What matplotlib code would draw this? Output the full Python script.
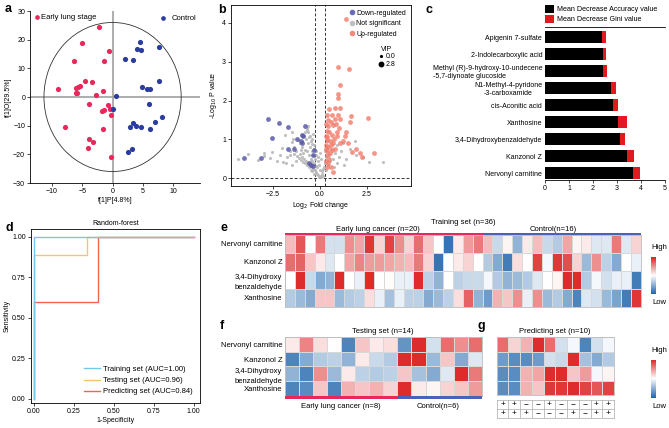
import matplotlib
matplotlib.use('Agg')
import matplotlib.pyplot as plt
import numpy as np
from matplotlib.colors import LinearSegmentedColormap
from matplotlib.patches import Ellipse
from matplotlib.lines import Line2D

plt.rcParams['font.family'] = ['Liberation Sans', 'DejaVu Sans']
plt.rcParams['font.size'] = 5
plt.rcParams['axes.linewidth'] = 0.6
for a in ('xtick', 'ytick'):
    plt.rcParams[a + '.major.size'] = 2
    plt.rcParams[a + '.major.width'] = 0.5
    plt.rcParams[a + '.major.pad'] = 1.5
    plt.rcParams[a + '.labelsize'] = 5

# ---------------- data ----------------
# a: OPLS-DA scores
lung_t1 = [-2.3, -5.0, -0.6, -6.4, -1.4, -4.5, -3.4, -5.3, -5.7, -6.0, -9.0, -6.1, -5.9, -1.5,
           -2.8, -3.8, -0.7, -0.5, -1.4, -1.8, -0.3, -7.8, -1.6, -3.8, -3.3, -4.1, -0.2]
lung_o1 = [24.4, 19.0, 16.1, 12.7, 12.7, 5.6, 5.3, 4.0, 3.4, 3.0, 2.8, 1.5, 1.3, 2.0,
           0.7, -2.5, -2.8, -4.3, -4.6, -5.0, -6.2, -10.3, -11.0, -14.6, -15.7, -17.7, -20.9]
ctrl_t1 = [4.5, 7.7, 4.0, 4.7, 2.0, 3.4, 7.7, 4.9, 5.6, 6.2, 0.5, 0.0, 6.0, 8.2, 7.0, 3.3,
           2.8, 3.8, 4.7, 6.1, 3.2, 2.5]
ctrl_o1 = [19.2, 17.5, 16.7, 16.5, 13.2, 13.0, 5.7, 3.5, 2.8, 2.8, 0.2, -4.2, -2.5, -7.0,
           -8.8, -9.0, -10.4, -10.2, -10.5, -11.3, -18.0, -19.2]

# b: volcano
down_fc = [-2.75, -2.18, -1.69, -2.54, -0.80, -0.94, -0.88, -1.24, -1.72, -1.37, -0.94, -0.32,
           -0.39, -0.59, -0.39, -0.50, -4.03, -3.12, -1.00]
down_p = [1.53, 1.41, 1.31, 1.04, 1.35, 1.11, 1.10, 1.00, 0.76, 0.76, 0.90, 0.72,
          0.61, 0.38, 0.32, 0.33, 0.52, 0.51, 0.95]
up_fc = [1.37, 0.98, 1.54, 1.06, 0.94, 0.98, 0.35, 0.50, 0.80, 1.06, 0.66, 0.98, 1.65, 2.54,
         0.44, 0.80, 1.06, 1.60, 0.44, 0.70, 1.03, 0.35, 0.50, 0.62, 0.89, 1.33, 0.35, 0.53,
         0.75, 1.06, 1.20, 1.68, 2.13, 2.22, 2.89, 0.30, 0.45, 0.60, 0.40, 0.55, 0.35, 0.50,
         0.30, 0.45, 0.35, 0.60, 0.67, 0.30, 0.40, 0.70, 0.90, 1.40, 0.32, 0.60, 0.85, 0.30,
         0.65, 0.80, 1.50, 1.90]
up_p = [4.11, 2.86, 2.80, 2.39, 2.16, 2.07, 1.64, 1.78, 1.81, 1.81, 1.64, 1.64, 1.61, 1.55,
        1.51, 1.53, 1.53, 1.45, 1.34, 1.38, 1.29, 1.21, 1.20, 1.12, 1.08, 1.08, 0.99, 0.95,
        1.00, 0.91, 0.95, 0.67, 0.65, 0.54, 0.65, 0.85, 0.80, 0.85, 0.70, 0.65, 0.60, 0.50,
        0.45, 0.40, 0.30, 0.30, 0.17, 1.10, 1.05, 0.90, 1.20, 1.20, 1.40, 1.45, 1.40, 0.75,
        0.72, 0.75, 0.90, 0.75]
ns_fc = [-4.35, -3.85, -3.30, -3.00, -2.95, -2.65, -2.55, -2.30, -1.95, -2.00, -1.75, -1.60,
         -1.50, -1.40, -1.86, -1.50, -1.42, -1.06, -0.80, -0.71, -0.66, 3.35, 2.60, 2.30,
         1.90, 1.60, 1.40, 1.85, 1.20, 1.30,
         -0.05, 0.00, 0.05, -0.10, 0.10, -0.15, 0.15, -0.20, -0.25, 0.12, -0.30, -0.35, -0.40,
         0.18, -0.45, -0.50, -0.55, 0.20, -0.60, -0.65, -0.70, -0.75, -0.80, -0.85, -0.90,
         -0.95, -1.00, -1.05, -1.10, -1.20, -1.25, -1.30, -0.50, -0.60, -0.70, -0.40, -0.30,
         -0.35, -0.45, -0.55, -0.65, -0.75, -0.85, -0.20, -0.25, -0.15, 0.00, -0.05, -0.10,
         -0.20, -0.30, -0.40, -0.50, -0.60, -0.95, -1.05, -1.15, -0.90, -1.00, 0.25, 0.30,
         0.25, 0.35, 0.40, 0.30, 0.45, 0.50, 0.55, 0.60, 0.70, 0.80, 0.90, 1.00, 1.10, 0.90,
         0.75, -0.12, -0.22, -0.32, -0.42, -0.52, -0.62, -0.70, -0.80, -0.35, 0.05, -0.02,
         -1.40, -1.60, -1.50, -1.80, -2.10]
ns_p = [0.49, 0.63, 0.48, 0.56, 0.66, 0.52, 0.68, 0.45, 0.43, 0.78, 0.55, 0.60,
        0.92, 0.62, 1.11, 1.20, 1.00, 0.90, 0.72, 1.24, 1.34, 0.43, 0.42, 0.55,
        0.60, 0.75, 0.50, 0.95, 0.90, 0.35,
        0.02, 0.05, 0.03, 0.08, 0.10, 0.12, 0.06, 0.15, 0.20, 0.18, 0.10, 0.25, 0.18,
        0.25, 0.30, 0.22, 0.35, 0.30, 0.28, 0.40, 0.33, 0.45, 0.38, 0.50, 0.42,
        0.55, 0.48, 0.62, 0.52, 0.58, 0.70, 0.45, 0.50, 0.60, 0.70, 0.45, 0.38,
        0.60, 0.70, 0.80, 0.90, 1.00, 1.08, 0.32, 0.50, 0.30, 0.20, 0.35, 0.45,
        0.60, 0.75, 0.88, 0.95, 1.05, 0.80, 0.90, 0.98, 0.65, 0.72, 0.40, 0.55,
        0.70, 0.80, 0.95, 0.20, 0.35, 0.60, 0.45, 0.75, 0.50, 0.65, 0.40, 0.55, 0.70, 0.85,
        0.30, 0.55, 0.70, 0.85, 1.00, 1.10, 1.20, 1.30, 1.18, 1.15, 0.50, 0.65,
        0.80, 0.70, 0.35, 0.40, 0.60]

# c: random forest importance
metabolites = ['Apigenin 7-sulfate', '2-Indolecarboxylic acid',
               'Methyl (R)-9-hydroxy-10-undecene\n-5,7-diynoate glucoside',
               'N1-Methyl-4-pyridone\n-3-carboxamide', 'cis-Aconitic acid', 'Xanthosine',
               '3,4-Dihydroxybenzaldehyde', 'Kanzonol Z', 'Nervonyl carnitine']
mda = [2.39, 2.40, 2.43, 2.75, 2.82, 3.06, 3.12, 3.40, 3.67]
mdg = [0.14, 0.14, 0.14, 0.19, 0.24, 0.36, 0.21, 0.32, 0.29]

# d: ROC
train_fpr = [0, 0, 1]
train_tpr = [0, 1, 1]
test_fpr = [0, 0, 0.333, 0.333, 1]
test_tpr = [0, 0.889, 0.889, 1, 1]
pred_fpr = [0, 0, 0.4, 0.4, 1]
pred_tpr = [0, 0.6, 0.6, 1, 1]

# e/f/g: heatmaps (scaled abundance, rows = features)
rows = ['Nervonyl carnitine', 'Kanzonol Z', '3,4-Dihydroxy\nbenzaldehyde', 'Xanthosine']
train_nervonyl = [0.3, 0.75, 0, 0.6, -0.2, -0.2, 0.5, 0.4, 0.9, 0.2, 0.85, 0.5, 0.2, 0.65, 0.25, 0,
                  -0.9, 0.1, 0.45, 0.6, 0.3, -0.25, 0.05, -0.5, 0.1, 0.3, -0.25, -0.35, 0.4, 0.05,
                  0.1, -0.15, -0.15, 0.6, -0.15, 0.2]
train_kanzonol = [0.65, 0.7, 0.25, 0.1, -0.15, 0, 0.4, 0.55, 0.45, 0.45, 0.4, 0.35, 0.3, 0.6, 0.2,
                  -0.9, 0, 0.1, 0.2, 0, -0.35, -0.55, -0.85, 0.15, 0, 0.85, -0.05, 0.9, 0.8, 0.2,
                  -0.45, 0.5, -0.3, -0.55, 0, -0.1]
train_dhb = [0, 0.95, -0.25, -0.55, -0.5, 0.95, 0, -0.1, 0.95, 0, 0.02, -0.1, -0.1, 0.95, -0.3, -0.5,
             0, -0.3, -0.25, -0.25, -0.05, -0.35, -0.5, -0.45, -0.35, -0.15, 0, 0.05, 0.95, 0.95,
             -0.35, -0.05, -0.2, -0.1, -0.1, -0.85]
train_xanth = [-0.35, -0.45, -0.55, 0.25, 0.25, -0.45, -0.35, -0.3, 0.15, -0.1, -0.4, -0.1, -0.3,
               -0.3, -0.55, -0.45, -0.3, 0.15, 0.7, -0.5, -0.65, 0.35, 0.25, 0.5, -0.1, 0.5, -0.45,
               -0.35, -0.55, -0.8, -0.15, -0.2, -0.45, -0.6, -0.85, 0.9]
test_nervonyl = [0.1, 0.55, 0.15, 0, -0.8, 0.25, 0.1, 0.15, -0.7, 0.95, -0.2, 0.65, 0.5, 0.65]
test_kanzonol = [-0.8, -0.55, -0.35, -0.3, -0.5, 0.1, -0.25, -0.35, 0.95, 0.95, -0.45, 0.25, -0.55, -0.15]
test_dhb = [-0.5, -0.8, 0.5, -0.45, 0.1, -0.3, -0.35, -0.3, 0.25, -0.4, -0.55, -0.15, 0.95, 0.6]
test_xanth = [-0.8, -0.75, 0.25, -0.8, 0.35, 0.25, 0.35, 0.2, 0.95, 0.1, 0.05, 0.2, 0.25, 0.45]
pred_nervonyl = [0.65, 0.2, 0.35, 0.95, 0.65, -0.2, -0.05, -0.8, -0.2, -0.05]
pred_kanzonol = [-0.65, -0.75, -0.75, -0.65, -0.2, -0.25, 0.95, -0.4, -0.55, -0.35]
pred_dhb = [-0.75, -0.75, 0.35, 0.4, 0.95, 0.95, 0.25, 0.45, -0.05, 0.05]
pred_xanth = [-0.75, -0.75, 0.35, 0.25, 0.9, 0.9, 0.95, 0.85, 0.75, 0.85]
train_groups = [20, 16]
test_groups = [8, 6]
pred_calls = [['+', '+', '−', '−', '+', '−', '−', '−', '+', '+'],
              ['+', '+', '+', '−', '−', '−', '+', '−', '+', '+']]

# ---------------- figure ----------------
W, H = 669, 428
fig = plt.figure(figsize=(W / 100, H / 100), dpi=100)


def box(x0, y0, x1, y1):
    return [x0 / W, 1 - y1 / H, (x1 - x0) / W, (y1 - y0) / H]


def ftext(x, y, s, **kw):
    fig.text(x / W, 1 - y / H, s, **kw)


red_c, blue_c = '#e8285a', '#2a3d9e'

# a
ax = fig.add_axes(box(30, 11, 200, 183))
ax.axhline(0, color='#a0a0a0', lw=1.2, zorder=0)
ax.axvline(0, color='#a0a0a0', lw=1.2, zorder=0)
ax.add_patch(Ellipse((0, 0), 22.6, 52, fill=False, lw=0.6, ec='#333333'))
h1 = ax.scatter(lung_t1, lung_o1, s=14, color=red_c, lw=0, label='Early lung stage', zorder=3)
h2 = ax.scatter(ctrl_t1, ctrl_o1, s=14, color=blue_c, lw=0, label='Control', zorder=3)
ax.set_xlim(-13.6, 14.4)
ax.set_ylim(-30, 30)
ax.set_xticks([-10, -5, 0, 5, 10])
ax.set_yticks([-30, -20, -10, 0, 10, 20, 30])
ax.spines[['top', 'right']].set_visible(False)
ax.set_xlabel('t[1]P[4.8%]', labelpad=1.5)
ax.set_ylabel('t[1]O[29.5%]', labelpad=1)
l1 = ax.legend(handles=[h1], loc='upper left', frameon=False, handletextpad=0.1,
               borderaxespad=0.0, handlelength=1.0, fontsize=5.5, markerscale=0.9)
ax.add_artist(l1)
ax.legend(handles=[h2], loc='upper right', frameon=False, handletextpad=0.1,
          borderaxespad=0.1, fontsize=5.5, markerscale=0.9)

# b
ax = fig.add_axes(box(231, 5, 411, 186))
ax.scatter(ns_fc, ns_p, s=5, color='#b8b8b8', lw=0, alpha=0.9, zorder=2)
ax.scatter(down_fc, down_p, s=12, color='#5a5aaa', lw=0, alpha=0.85, zorder=3)
ax.scatter(up_fc, up_p, s=12, color='#f27b6b', lw=0, alpha=0.8, zorder=3)
for xv in (-0.26, 0.26):
    ax.axvline(xv, color='#333333', lw=0.7, ls=(0, (3, 2)), zorder=1)
ax.axhline(0, color='#333333', lw=0.7, ls=(0, (3, 2)), zorder=1)
ax.set_xlim(-4.73, 4.84)
ax.set_ylim(-0.2, 4.46)
ax.set_xticks([-2.5, 0, 2.5])
ax.set_xticklabels(['−2.5', '0.0', '2.5'])
ax.set_yticks([0, 1, 2, 3, 4])
ax.set_xlabel(r'Log$_2$ Fold change', labelpad=1.5)
ax.set_ylabel(r'-Log$_{10}$ P value', labelpad=2)
hs = [Line2D([], [], ls='', marker='o', ms=3, color=c, label=t) for c, t in
      [('#6a6ab8', 'Down-regulated'), ('#c0c0c0', 'Not significant'), ('#f28a7c', 'Up-regulated')]]
lb = ax.legend(handles=hs, loc='upper right', frameon=False, handletextpad=0.0,
               borderaxespad=0.3, labelspacing=0.5, handlelength=1.2)
ax.add_artist(lb)
vs = [Line2D([], [], ls='', marker='o', ms=ms, color='black', label=t) for ms, t in
      [(1.3, '0.0'), (3.2, '2.8')]]
ax.legend(handles=vs, title='VIP', loc='upper right', bbox_to_anchor=(0.93, 0.79), frameon=False,
          handletextpad=0.1, borderaxespad=0, labelspacing=0.1, handlelength=1.2,
          title_fontsize=5)

# c
ax = fig.add_axes(box(545, 27, 665, 180))
yy = np.arange(len(metabolites))[::-1]
ax.barh(yy, mda, height=0.7, color='black', label='Mean Decrease Accuracy value')
ax.barh(yy, mdg, left=mda, height=0.7, color='#e2191f', label='Mean Decrease Gini value')
ax.set_xlim(0, 5)
ax.set_ylim(-0.4, 8.6)
ax.set_yticks(yy)
ax.set_yticklabels(metabolites)
for lab in ax.get_yticklabels():
    lab.set_multialignment('center' if lab.get_text().startswith('N1') else 'left')
ax.tick_params(axis='y', length=0, pad=2)
ax.set_xticks(range(6))
ax.spines[['left', 'right']].set_visible(False)
ax.legend(loc='lower left', bbox_to_anchor=(-0.03, 1.0), frameon=False, handlelength=1.3,
          handleheight=1.3, handletextpad=0.4, borderaxespad=0.1, labelspacing=0.3, fontsize=5.1)

# d
ax = fig.add_axes(box(30.7, 229, 200, 403))
ax.plot(pred_fpr, pred_tpr, color='#f0654f', lw=1)
ax.plot(test_fpr, test_tpr, color='#f6c46c', lw=1)
ax.plot(train_fpr, train_tpr, color='#72c8ea', lw=1)
ax.set_xlim(-0.02, 1.04)
ax.set_ylim(-0.025, 1.047)
ticks = [0, 0.25, 0.5, 0.75, 1]
ax.set_xticks(ticks)
ax.set_yticks(ticks)
ax.set_xticklabels(['%.2f' % t for t in ticks])
ax.set_yticklabels(['%.2f' % t for t in ticks])
ax.set_xlabel('1-Specificity', labelpad=1.5)
ax.set_ylabel('Sensitivity', labelpad=1)
ax.set_title('Random-forest', fontsize=5, pad=3)
hd = [Line2D([], [], color=c, lw=1, label=t) for c, t in
      [('#72c8ea', 'Training set (AUC=1.00)'), ('#f6c46c', 'Testing set (AUC=0.96)'),
       ('#f0654f', 'Predicting set (AUC=0.84)')]]
ax.legend(handles=hd, loc='lower right', frameon=False, handlelength=2, handletextpad=0.4,
          labelspacing=0.5, borderaxespad=0.6, fontsize=5.5)

# heatmaps
cmap = LinearSegmentedColormap.from_list('rb', ['#2166ac', '#ffffff', '#dc2121'])


def heat(rect, data, labels=True):
    hx = fig.add_axes(rect)
    hx.pcolormesh(np.array(data), cmap=cmap, vmin=-1, vmax=1, edgecolors='#d8d8d8', linewidth=0.4)
    hx.set_ylim(len(data), 0)
    hx.set_xticks([])
    hx.set_yticks(np.arange(len(data)) + 0.5)
    if labels:
        hx.set_yticklabels(rows, fontsize=5.5, linespacing=1.6)
    else:
        hx.set_yticklabels([])
    hx.tick_params(axis='y', length=0, pad=2)
    for s in hx.spines.values():
        s.set_color('#bbbbbb')
        s.set_linewidth(0.6)
    return hx


def groupbar(rect, groups):
    bx = fig.add_axes(rect)
    bx.axvspan(0, groups[0], color=red_c, lw=0)
    bx.axvspan(groups[0], sum(groups), color='#4a63b8', lw=0)
    bx.set_xlim(0, sum(groups))
    bx.axis('off')


def cbar(rect, ytop, ybot, x):
    cx = fig.add_axes(rect)
    cx.imshow(np.linspace(1, -1, 100)[:, None], aspect='auto', cmap=cmap)
    cx.axis('off')
    ftext(x, ytop, 'High', ha='center', va='center', fontsize=5.5)
    ftext(x, ybot, 'Low', ha='center', va='center', fontsize=5.5)


heat(box(285, 235, 640.7, 307), [train_nervonyl, train_kanzonol, train_dhb, train_xanth])
groupbar(box(285, 232.5, 640.7, 235), train_groups)
ftext(463, 222, 'Training set (n=36)', ha='center', va='center', fontsize=5.5)
ftext(378, 229.5, 'Early lung cancer (n=20)', ha='center', va='center', fontsize=5.5)
ftext(553, 229.5, 'Control(n=16)', ha='center', va='center', fontsize=5.5)
cbar(box(650.5, 257, 655.5, 294), 248, 302, 659)

heat(box(285, 337, 481.7, 395.7), [test_nervonyl, test_kanzonol, test_dhb, test_xanth])
groupbar(box(285, 395.7, 481.7, 398.5), test_groups)
ftext(383, 331.5, 'Testing set (n=14)', ha='center', va='center', fontsize=5.5)
ftext(341, 406.5, 'Early lung cancer (n=8)', ha='center', va='center', fontsize=5.5)
ftext(438, 406.5, 'Control(n=6)', ha='center', va='center', fontsize=5.5)

heat(box(496.7, 337, 614, 395), [pred_nervonyl, pred_kanzonol, pred_dhb, pred_xanth], labels=False)
ftext(555, 331.5, 'Predicting set (n=10)', ha='center', va='center', fontsize=5.5)
cbar(box(650.5, 360, 655.5, 398), 351, 406, 659)

tx = fig.add_axes(box(496.7, 400, 614, 418))
nc = len(pred_calls[0])
tx.set_xlim(0, nc)
tx.set_ylim(2, 0)
for i in range(1, nc):
    tx.axvline(i, color='#aaaaaa', lw=0.5)
tx.axhline(1, color='#aaaaaa', lw=0.5)
for r, row in enumerate(pred_calls):
    for c, s in enumerate(row):
        tx.text(c + 0.5, r + 0.5, s, ha='center', va='center', fontsize=6)
tx.set_xticks([])
tx.set_yticks([])
for s in tx.spines.values():
    s.set_color('#aaaaaa')
    s.set_linewidth(0.5)

# panel letters
for x, y, s in [(5, 9, 'a'), (218, 10, 'b'), (425, 10, 'c'), (5, 228, 'd'),
                (220, 228, 'e'), (220, 326, 'f'), (478, 326, 'g')]:
    ftext(x, y, s, fontsize=9, fontweight='bold', va='center', ha='left')

fig.savefig('out.png', dpi=100)
